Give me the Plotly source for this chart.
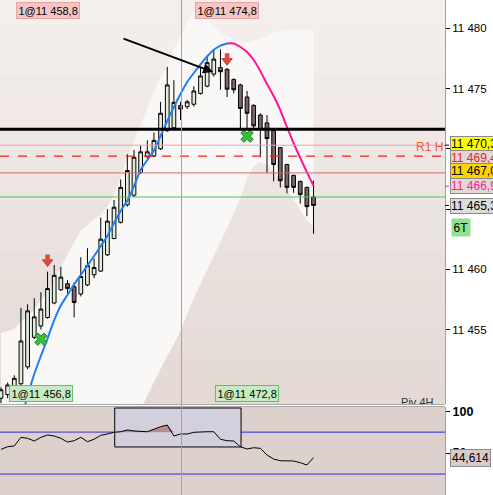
import plotly.graph_objects as go

# ---------------- data ----------------
bars = list(range(48))
open_ = [11449.3, 11449.6, 11450.2, 11450.5, 11451.9, 11454.35, 11455.3, 11456.0, 11457.2, 11458.3,
         11458.8, 11458.55, 11457.95, 11458.7, 11459.55, 11459.85, 11461.2, 11462.55, 11463.9, 11465.35,
         11466.15, 11468.05, 11469.35, 11469.4, 11470.0, 11471.5, 11471.75, 11473.6, 11473.5, 11473.7,
         11474.6, 11475.2, 11476.2, 11476.75, 11476.6, 11475.75, 11475.3, 11474.3, 11473.6, 11472.8,
         11472.15, 11471.5, 11470.1, 11468.7, 11467.8, 11467.3, 11466.8, 11466.0]
high = [11450.2, 11450.6, 11451.2, 11456.8, 11457.1, 11457.6, 11458.1, 11459.8, 11460.35, 11460.2,
        11459.1, 11458.9, 11461.0, 11461.75, 11460.9, 11464.3, 11465.0, 11465.75, 11467.45, 11469.55,
        11469.9, 11470.3, 11470.7, 11471.35, 11473.9, 11476.8, 11475.7, 11473.9, 11474.05, 11475.2,
        11476.7, 11477.75, 11478.2, 11478.25, 11476.7, 11475.85, 11475.4, 11474.8, 11473.7, 11472.95,
        11472.8, 11471.6, 11470.15, 11468.75, 11467.85, 11467.35, 11466.85, 11467.35]
low = [11448.9, 11449.3, 11449.9, 11450.3, 11451.7, 11454.2, 11455.0, 11455.9, 11457.1, 11458.2,
       11457.9, 11456.0, 11457.75, 11458.6, 11459.25, 11459.8, 11461.1, 11462.5, 11463.8, 11465.2,
       11466.0, 11467.9, 11469.2, 11469.3, 11469.9, 11471.4, 11471.6, 11472.4, 11473.3, 11473.5,
       11474.5, 11475.1, 11476.0, 11474.9, 11474.3, 11474.6, 11471.7, 11471.7, 11471.6, 11469.3,
       11468.0, 11467.3, 11466.8, 11466.3, 11466.35, 11465.45, 11464.4, 11462.95]
close = [11450.0, 11450.4, 11450.95, 11454.05, 11456.55, 11456.05, 11456.7, 11458.4, 11459.5, 11459.35,
         11458.4, 11457.25, 11459.4, 11460.3, 11460.15, 11462.5, 11464.0, 11465.15, 11466.8, 11468.2,
         11469.3, 11469.75, 11469.75, 11470.7, 11472.95, 11475.3, 11473.85, 11473.3, 11473.9, 11474.8,
         11476.05, 11477.15, 11477.45, 11476.4, 11474.95, 11474.9, 11473.35, 11472.95, 11471.9, 11471.6,
         11470.85, 11468.7, 11467.35, 11466.8, 11466.8, 11466.2, 11465.2, 11465.3]

# moving average (blue while rising, pink while falling)
ma = [None, None, None, 11447.5, 11449.49, 11451.31, 11452.81, 11454.26, 11455.79, 11457.0,
      11457.87, 11458.76, 11459.53, 11460.32, 11461.10, 11461.93, 11462.76, 11463.84, 11464.84, 11465.71,
      11466.91, 11468.24, 11469.07, 11469.86, 11471.06, 11472.31, 11473.47, 11474.55, 11475.54, 11476.29,
      11477.0, 11477.66, 11478.22, 11478.57, 11478.74, 11478.74, 11478.45, 11478.03, 11477.37, 11476.46,
      11475.38, 11474.38, 11473.22, 11471.81, 11470.48, 11469.24, 11468.07, 11466.93]
ma_turn = 34

# envelope (light band behind price)
band_upper = [11454.71, 11454.88, 11455.05, 11455.71, 11456.13, 11456.62, 11457.45, 11458.03, 11459.03, 11460.19,
              11461.19, 11462.27, 11463.18, 11463.68, 11464.17, 11464.51, 11465.25, 11466.17, 11467.58, 11469.24,
              11470.65, 11471.98, 11473.39, 11474.71, 11475.88, 11476.95, 11478.2, 11479.36, 11480.52, 11481.35,
              11481.19, 11480.69, 11480.19, 11479.69, 11479.28, 11479.03, 11478.86, 11478.78, 11478.95, 11479.2,
              11479.36, 11479.61, 11479.78, 11479.86, 11479.86, 11479.86, 11479.86, 11479.86]
band_lower = [11440.0] * 18 + [11444.8, 11446.0,
              11447.16, 11448.32, 11449.49, 11450.65, 11451.73, 11452.8, 11453.8, 11454.88, 11456.29, 11457.62,
              11458.78, 11459.94, 11461.1, 11462.27, 11463.43, 11464.67, 11465.92, 11467.58, 11468.57, 11468.91,
              11468.66, 11468.16, 11467.41, 11466.58, 11465.75, 11464.92, 11464.09, 11463.51]

# oscillator (lower panel)
osc = [54.5, 57.6, 58.5, 68.8, 67.6, 64.4, 68.8, 71.6, 70.4, 67.6,
       63.2, 64.8, 68.8, 63.6, 66.5, 71.2, 72.8, 74.8, 75.5, 77.6,
       76.4, 76.4, 75.5, 78.4, 81.5, 83.5, 70.4, 72.8, 72.8, 74.8,
       75.5, 75.5, 75.5, 66.5, 64.8, 64.4, 57.6, 54.9, 56.4, 55.7,
       47.7, 42.9, 40.9, 40.9, 40.6, 38.5, 35.8, 44.614]
osc_upper, osc_lower = 75, 25

price_ticks = [11455, 11460, 11465, 11470, 11475, 11480]
price_tick_text = ["11 455", "11 460", "11 465", "11 470", "11 475", "11 480"]
osc_ticks = [50, 100]
osc_tick_text = ["50", "<b>100</b>"]

# drawn levels
level_black = 11471.62
level_salmon = 11470.3
level_r1 = 11469.4
level_red = 11468.0
level_green = 11466.0

# signals
sell_bars = [7, 34]
sell_prices = [11460.6, 11477.3]
sell_labels = ["1@11 458,8", "1@11 474,8"]
buy_bars = [6, 37]
buy_prices = [11454.2, 11471.05]
buy_labels = ["1@11 456,8", "1@11 472,8"]

# right-side price labels
rl_texts = ["11 470,3", "11 469,4", "11 467,0", "11 466,9", "11 465,3"]
rl_prices = [11470.3, 11469.4, 11467.0, 11466.9, 11465.3]
rl_shift = [1, -1.5, 14, 0, -1]
rl_bg = ["#ffff00", "#e2d6d6", "#ffd400", "#e2d6d6", "#dcdcdc"]
rl_fg = ["#000000", "#e02828", "#000000", "#ff1c8c", "#000000"]

# pivot caption (mostly hidden under the lower panel)
piv_text = "Piv 4H"
piv_bar = 62.6
piv_price = 11448.85

# drawings
trend_from = (18.2, 11479.19)
trend_to = (31.9, 11476.37)
cursor_bar = 27.15
osc_box = (17.1, 36.1, 57.3, 103.8)

# ---------------- figure ----------------
W, H = 493, 495
PLOT_W = 445
MAIN_BOTTOM = 404
SUB_TOP = 407
FONT = "Liberation Sans, Arial, sans-serif"
SELL_RED = "#e5473f"

fig = go.Figure()

# candles
fig.add_trace(go.Candlestick(
    x=bars, open=open_, high=high, low=low, close=close,
    increasing=dict(fillcolor="#e1eddb", line=dict(color="black", width=1)),
    decreasing=dict(fillcolor="#7c666a", line=dict(color="black", width=1)),
    whiskerwidth=0, showlegend=False, hoverinfo="skip"))

# moving average
fig.add_trace(go.Scatter(x=bars[:ma_turn + 1], y=ma[:ma_turn + 1], mode="lines",
                         line=dict(color="#1f7ef2", width=2, shape="spline", smoothing=0.6),
                         hoverinfo="skip", showlegend=False))
fig.add_trace(go.Scatter(x=bars[ma_turn:], y=ma[ma_turn:], mode="lines",
                         line=dict(color="#ff1493", width=2, shape="spline", smoothing=0.6),
                         hoverinfo="skip", showlegend=False))

# buy markers
fig.add_trace(go.Scatter(x=buy_bars, y=buy_prices, mode="markers",
                         marker=dict(symbol="x", size=11, color="#3dbb3d",
                                     line=dict(color="#1d8a1d", width=1)),
                         hoverinfo="skip", showlegend=False))
# sell arrow heads
fig.add_trace(go.Scatter(x=sell_bars, y=sell_prices, mode="markers",
                         marker=dict(symbol="triangle-down", size=9, color=SELL_RED,
                                     line=dict(color="#b3302a", width=0.8)),
                         hoverinfo="skip", showlegend=False))
# pivot caption clipped by the panel edge
fig.add_trace(go.Scatter(x=[piv_bar], y=[piv_price], mode="text", text=[piv_text],
                         textposition="middle center", cliponaxis=True,
                         textfont=dict(family=FONT, size=11, color="#333333"),
                         hoverinfo="skip", showlegend=False))

# oscillator panel
fig.add_trace(go.Scatter(x=bars, y=[osc_upper] * len(bars), mode="lines", line=dict(width=0),
                         xaxis="x2", yaxis="y2", hoverinfo="skip", showlegend=False))
fig.add_trace(go.Scatter(x=bars, y=[max(v, osc_upper) for v in osc], mode="lines", line=dict(width=0),
                         fill="tonexty", fillcolor="#b38e91", xaxis="x2", yaxis="y2",
                         hoverinfo="skip", showlegend=False))
fig.add_trace(go.Scatter(x=bars, y=osc, mode="lines", line=dict(color="black", width=1),
                         xaxis="x2", yaxis="y2", hoverinfo="skip", showlegend=False))

shapes = []
# vertical gradient for the main panel background
top_c = (245, 240, 238)
bot_c = (227, 216, 212)
N = 16
for k in range(N):
    t = (k + 0.5) / N
    c = tuple(round(top_c[j] + (bot_c[j] - top_c[j]) * t) for j in range(3))
    shapes.append(dict(type="rect", xref="x domain", yref="y domain", x0=0, x1=1,
                       y0=1 - (k + 1) / N, y1=1 - k / N, layer="below",
                       fillcolor="rgb(%d,%d,%d)" % c, line=dict(width=0)))
# envelope band as a path built from the band arrays
pts = [(b, u) for b, u in zip(bars, band_upper)] + [(b, l) for b, l in zip(bars[::-1], band_lower[::-1])]
band_path = "M " + " L ".join("%s,%s" % (px, py) for px, py in pts) + " Z"
shapes.append(dict(type="path", xref="x", yref="y", path=band_path, layer="below",
                   fillcolor="#faf8f7", line=dict(width=0)))
# lower panel background
shapes.append(dict(type="rect", xref="x2 domain", yref="y2 domain", x0=0, x1=1, y0=0, y1=1,
                   layer="below", fillcolor="#ddd1ce", line=dict(width=0)))
shapes.append(dict(type="rect", xref="x2", yref="y2", x0=osc_box[0], x1=osc_box[1],
                   y0=osc_box[2], y1=osc_box[3], layer="below", fillcolor="#d3cfdc",
                   line=dict(color="black", width=1)))
for lv in (osc_upper, osc_lower):
    shapes.append(dict(type="line", xref="x2 domain", yref="y2", x0=0, x1=1, y0=lv, y1=lv,
                       line=dict(color="#2a2ae6", width=1), layer="below"))

# horizontal levels
shapes.append(dict(type="line", xref="x domain", yref="y", x0=0, x1=1, y0=level_salmon, y1=level_salmon,
                   line=dict(color="#f0a0a0", width=1)))
shapes.append(dict(type="line", xref="x domain", yref="y", x0=0, x1=1, y0=level_r1, y1=level_r1,
                   line=dict(color="#ff1a1a", width=1.3, dash="dash")))
shapes.append(dict(type="line", xref="x domain", yref="y", x0=0, x1=1, y0=level_red, y1=level_red,
                   line=dict(color="#d86868", width=1)))
shapes.append(dict(type="line", xref="x domain", yref="y", x0=0, x1=1, y0=level_green, y1=level_green,
                   line=dict(color="#5cc05c", width=1)))
shapes.append(dict(type="line", xref="x domain", yref="y", x0=0, x1=1, y0=level_black, y1=level_black,
                   line=dict(color="black", width=3)))
# cursor line through both panels
shapes.append(dict(type="line", xref="x", yref="paper", x0=cursor_bar, x1=cursor_bar, y0=0, y1=1,
                   line=dict(color="#f08080", width=1)))
# separators
sep1 = 1 - (MAIN_BOTTOM + 0.5) / H
sep2 = 1 - (SUB_TOP - 0.5) / H
for yy in (sep1, sep2):
    shapes.append(dict(type="line", xref="paper", yref="paper", x0=0, x1=1, y0=yy, y1=yy,
                       line=dict(color="#a8a8a8", width=1)))
# small markers on the price scale
for p, fg in zip([rl_prices[0], rl_prices[3], rl_prices[4]], ["black", "#ff1c8c", "black"]):
    shapes.append(dict(type="line", xref="paper", yref="y", x0=1, x1=1 + 4 / PLOT_W, y0=p, y1=p,
                       line=dict(color=fg, width=1)))

ann = []
# trend arrow
ann.append(dict(x=trend_to[0], y=trend_to[1], ax=trend_from[0], ay=trend_from[1], xref="x", yref="y",
                axref="x", ayref="y", showarrow=True, arrowhead=2, arrowsize=1, arrowwidth=2,
                arrowcolor="black", text=""))
# sell arrow stems + labels
for b, p, t in zip(sell_bars, sell_prices, sell_labels):
    ann.append(dict(x=b, y=p, ax=0, ay=-9, xref="x", yref="y",
                    showarrow=True, arrowhead=0, arrowwidth=4.5, arrowcolor=SELL_RED, text=""))
    ann.append(dict(x=b, y=1, xref="x", yref="y domain", yanchor="top", yshift=-2, text=t,
                    showarrow=False, font=dict(family=FONT, size=11, color="black"),
                    bgcolor="#f5c5c5", bordercolor="#e8a3a3", borderwidth=1, borderpad=1.5))
for b, t in zip(buy_bars, buy_labels):
    ann.append(dict(x=b, y=0, xref="x", yref="y domain", yanchor="bottom", yshift=2, text=t,
                    showarrow=False, font=dict(family=FONT, size=11, color="black"),
                    bgcolor="#c6eac2", bordercolor="#62c45e", borderwidth=1, borderpad=1.5))
# R1 H
ann.append(dict(x=1, y=level_r1, xref="paper", yref="y", xanchor="right", yanchor="bottom", yshift=0,
                text="R1 H", showarrow=False, font=dict(family=FONT, size=12, color="#f25b3a")))
# right-side labels
for t, p, s, bg, fg in zip(rl_texts, rl_prices, rl_shift, rl_bg, rl_fg):
    ann.append(dict(x=1 + 5 / PLOT_W, y=p, xref="paper", yref="y", xanchor="left", yanchor="middle",
                    yshift=s, text=t, showarrow=False, font=dict(family=FONT, size=12, color=fg),
                    bgcolor=bg, bordercolor="#8a8a8a", borderwidth=1, borderpad=0))
ann.append(dict(x=1 + 6 / PLOT_W, y=1 - 227 / H, xref="paper", yref="paper", xanchor="left",
                yanchor="middle", text="6T", showarrow=False, font=dict(family=FONT, size=12, color="black"),
                bgcolor="#8fe28f", borderpad=1.5))
ann.append(dict(x=1 + 5 / PLOT_W, y=osc[-1], xref="paper", yref="y2", xanchor="left", yanchor="middle",
                text="44,614", showarrow=False, font=dict(family=FONT, size=12, color="black"),
                bgcolor="#dacaca", bordercolor="#8a8a8a", borderwidth=1, borderpad=1))

x_range = [-0.15, 66.77]
fig.update_layout(
    width=W, height=H, margin=dict(l=0, r=W - PLOT_W, t=0, b=0, autoexpand=False),
    paper_bgcolor="white", plot_bgcolor="#ece3e0", showlegend=False,
    font=dict(family=FONT, size=11, color="black"),
    boxgap=0.2,
    xaxis=dict(domain=[0, 1], range=x_range, showticklabels=False, showgrid=False, zeroline=False,
               rangeslider=dict(visible=False), anchor="y", automargin=False),
    xaxis2=dict(domain=[0, 1], range=x_range, matches="x", showticklabels=False, showgrid=False,
                zeroline=False, anchor="y2", automargin=False),
    yaxis=dict(domain=[1 - MAIN_BOTTOM / H, 1], range=[11448.82, 11482.35], side="right",
               tickvals=price_ticks, ticktext=price_tick_text, ticks="outside", ticklen=4,
               tickcolor="black", showgrid=False, zeroline=False, showline=True, linecolor="#a0a0a0",
               linewidth=1, tickfont=dict(family=FONT, size=11.5, color="black"), automargin=False),
    yaxis2=dict(domain=[0, 1 - SUB_TOP / H], range=[0, 105], side="right",
                tickvals=osc_ticks, ticktext=osc_tick_text, ticks="outside", ticklen=4,
                tickcolor="black", showgrid=False, zeroline=False, showline=True, linecolor="#a0a0a0",
                linewidth=1, tickfont=dict(family=FONT, size=12.5, color="black"), automargin=False),
    shapes=shapes, annotations=ann,
)

fig.write_html("out.html", config={"displayModeBar": False},
               post_script="document.body.style.margin='0';document.body.style.overflow='hidden';")
